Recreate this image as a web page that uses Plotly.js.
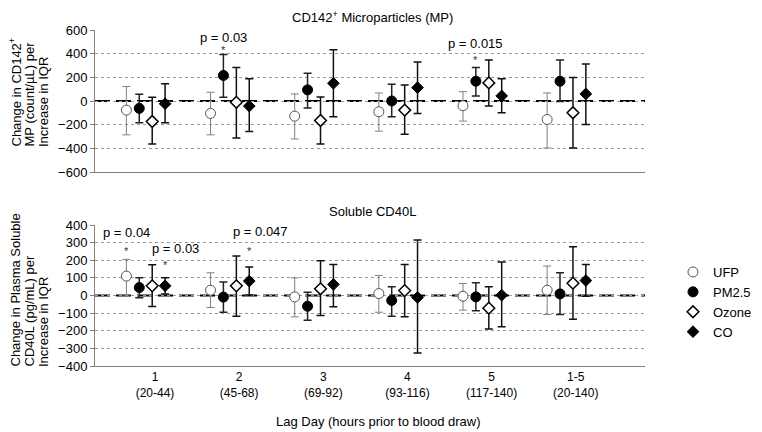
<!DOCTYPE html>
<html>
<head>
<meta charset="utf-8">
<script src="https://cdn.plot.ly/plotly-3.0.1.min.js"></script>
<style>html,body{margin:0;padding:0;background:#fff;}#chart{width:762px;height:432px;}</style>
</head>
<body>
<div id="chart"></div>
<script>
// Categories (lag day, hours prior to blood draw)
const lagLabels = ['1<br>(20-44)', '2<br>(45-68)', '3<br>(69-92)', '4<br>(93-116)', '5<br>(117-140)', '1-5<br>(20-140)'];
const seriesNames = ['UFP', 'PM2.5', 'Ozone', 'CO'];

// Top panel: change in CD142+ MP (count/uL) per IQR increase
const mpUFP      = [-77, -105, -128, -91, -40, -156];
const mpUFPlo    = [-286, -286, -321, -255, -170, -397];
const mpUFPhi    = [122, 74, 60, 68, 79, 68];
const mpPM       = [-62, 216, 94, 0, 167, 167];
const mpPMlo     = [-184, 31, -60, -133, 43, -5];
const mpPMhi     = [57, 392, 235, 142, 284, 346];
const mpOzone    = [-173, -11, -165, -77, 153, -99];
const mpOzonelo  = [-363, -312, -363, -281, -43, -397];
const mpOzonehi  = [31, 284, 34, 136, 346, 199];
const mpCO       = [-23, -43, 150, 113, 43, 60];
const mpCOlo     = [-184, -258, -133, -105, -99, -199];
const mpCOhi     = [145, 187, 434, 329, 187, 312];

// Bottom panel: change in plasma soluble CD40L (pg/mL) per IQR increase
const cdUFP      = [110, 30, -8, 11, -4, 30];
const cdUFPlo    = [3, -68, -121, -95, -83, -108];
const cdUFPhi    = [205, 129, 100, 114, 68, 167];
const cdPM       = [45, -9, -61, -28, -8, 9];
const cdPMlo     = [-13, -95, -140, -118, -87, -108];
const cdPMhi     = [100, 76, 19, 49, 72, 129];
const cdOzone    = [55, 55, 38, 28, -72, 70];
const cdOzonelo  = [-63, -118, -114, -121, -190, -135];
const cdOzonehi  = [174, 224, 197, 176, 49, 277];
const cdCO       = [55, 82, 63, -11, 2, 85];
const cdCOlo     = [9, 3, -64, -326, -178, -4];
const cdCOhi     = [100, 161, 176, 315, 190, 176];

const FONT = 'Liberation Sans, Arial, sans-serif';
const W = 762, H = 432;
const px = v => v / W;
const py = v => 1 - v / H;

const offsets = [-0.23, -0.077, 0.077, 0.23];
const groupIdx = lagLabels.map((_, i) => i + 1);

const styles = [
  {symbol: 'circle', size: 10, color: '#ffffff', line: {color: '#555', width: 1}, err: '#808080', errW: 1},
  {symbol: 'circle', size: 10, color: '#000000', line: {color: '#000', width: 1}, err: '#222', errW: 1.5},
  {symbol: 'diamond', size: 9, color: '#ffffff', line: {color: '#000', width: 1.5}, err: '#111', errW: 1.5},
  {symbol: 'diamond', size: 9, color: '#000000', line: {color: '#000', width: 1}, err: '#111', errW: 1.5}
];

function makeTrace(k, est, lo, hi, xa, ya, showLegend) {
  const s = styles[k];
  return {
    type: 'scatter', mode: 'markers', name: seriesNames[k],
    x: groupIdx.map(g => g + offsets[k]), y: est,
    xaxis: xa, yaxis: ya, showlegend: showLegend, legendgroup: seriesNames[k],
    marker: {symbol: s.symbol, size: s.size, color: s.color, line: s.line},
    error_y: {type: 'data', symmetric: false,
      array: hi.map((h, i) => h - est[i]), arrayminus: est.map((e, i) => e - lo[i]),
      color: s.err, thickness: s.errW, width: 4}
  };
}

const topSets = [[mpUFP, mpUFPlo, mpUFPhi], [mpPM, mpPMlo, mpPMhi], [mpOzone, mpOzonelo, mpOzonehi], [mpCO, mpCOlo, mpCOhi]];
const botSets = [[cdUFP, cdUFPlo, cdUFPhi], [cdPM, cdPMlo, cdPMhi], [cdOzone, cdOzonelo, cdOzonehi], [cdCO, cdCOlo, cdCOhi]];

const traces = [];
topSets.forEach((d, k) => traces.push(makeTrace(k, d[0], d[1], d[2], 'x', 'y', true)));
botSets.forEach((d, k) => traces.push(makeTrace(k, d[0], d[1], d[2], 'x2', 'y2', false)));

const xRange = [0.397, 6.933];
const xDomain = [px(95), px(645)];
const tickFont = {family: FONT, size: 13, color: '#000'};

const yCommon = {
  showline: true, linecolor: '#808080', linewidth: 1,
  ticks: 'outside', ticklen: 4, tickcolor: '#808080',
  showgrid: true, gridcolor: '#9a9a9a', griddash: 'dot', gridwidth: 1,
  zeroline: false, tickfont: tickFont, fixedrange: true
};
const xCommon = {
  range: xRange, domain: xDomain, showline: true, linecolor: '#808080', linewidth: 1,
  showgrid: false, zeroline: false, ticks: '', tickfont: {family: FONT, size: 12, color: '#000'},
  tickmode: 'array', tickvals: groupIdx.map(g => g + 0.11), ticktext: lagLabels, fixedrange: true
};

const annotations = [
  {text: 'CD142<sup>+</sup> Microparticles (MP)', x: px(372), y: py(17)},
  {text: 'Soluble CD40L', x: px(372), y: py(212)},
  {text: 'Lag Day (hours prior to blood draw)', x: px(378), y: py(421)},
  {text: 'Change in CD142<sup>+</sup>', x: px(15), y: py(149), textangle: -90, yanchor: 'bottom'},
  {text: 'MP (count/µL) per', x: px(29), y: py(149), textangle: -90, yanchor: 'bottom'},
  {text: 'Increase in IQR', x: px(43), y: py(149), textangle: -90, yanchor: 'bottom'},
  {text: 'Change in Plasma Soluble', x: px(15), y: py(369), textangle: -90, yanchor: 'bottom'},
  {text: 'CD40L (pg/mL) per', x: px(29), y: py(369), textangle: -90, yanchor: 'bottom'},
  {text: 'Increase in IQR', x: px(43), y: py(369), textangle: -90, yanchor: 'bottom'}
].map(a => Object.assign({xref: 'paper', yref: 'paper', showarrow: false, xanchor: 'center', yanchor: 'middle',
  font: {family: FONT, size: 13, color: '#000'}}, a));

// significance labels
const sig = [
  {text: 'p = 0.03', x: 2 + offsets[1], y: 540, xref: 'x', yref: 'y'},
  {text: '*', x: 2 + offsets[1], y: 430, xref: 'x', yref: 'y', star: true},
  {text: 'p = 0.015', x: 5 + offsets[1], y: 490, xref: 'x', yref: 'y'},
  {text: '*', x: 5 + offsets[1], y: 350, xref: 'x', yref: 'y', star: true},
  {text: 'p = 0.04', x: 1 + offsets[0], y: 356, xref: 'x2', yref: 'y2'},
  {text: '*', x: 1 + offsets[0], y: 252, xref: 'x2', yref: 'y2', star: true},
  {text: 'p = 0.03', x: 1.348, y: 266, xref: 'x2', yref: 'y2'},
  {text: '*', x: 1 + offsets[3], y: 175, xref: 'x2', yref: 'y2', star: true},
  {text: 'p = 0.047', x: 2.358, y: 364, xref: 'x2', yref: 'y2'},
  {text: '*', x: 2 + offsets[3], y: 252, xref: 'x2', yref: 'y2', star: true}
];
sig.forEach(s => annotations.push({
  text: s.text, x: s.x, y: s.y, xref: s.xref, yref: s.yref, showarrow: false,
  xanchor: 'center', yanchor: 'middle',
  font: {family: FONT, size: s.star ? 11 : 13, color: s.star ? '#333' : '#000'}
}));

const zeroDash = {color: '#000', width: 2, dash: '15px,6px'};
const layout = {
  width: W, height: H,
  margin: {l: 0, r: 0, t: 0, b: 0},
  paper_bgcolor: '#fff', plot_bgcolor: '#fff',
  font: {family: FONT, size: 13, color: '#000'},
  xaxis: Object.assign({}, xCommon, {anchor: 'y', showticklabels: false}),
  xaxis2: Object.assign({}, xCommon, {anchor: 'y2'}),
  yaxis: Object.assign({}, yCommon, {domain: [py(172), py(30)], range: [-600, 600], tickvals: [-600, -400, -200, 0, 200, 400, 600], anchor: 'x'}),
  yaxis2: Object.assign({}, yCommon, {domain: [py(366), py(225)], range: [-400, 400], tickvals: [-400, -300, -200, -100, 0, 100, 200, 300, 400], anchor: 'x2'}),
  shapes: [
    {type: 'line', xref: 'x domain', x0: 0, x1: 1, yref: 'y', y0: 0, y1: 0, line: zeroDash, layer: 'below'},
    {type: 'line', xref: 'x2 domain', x0: 0, x1: 1, yref: 'y2', y0: 0, y1: 0, line: zeroDash, layer: 'below'}
  ],
  annotations: annotations,
  showlegend: true,
  legend: {x: px(673), y: py(257), xanchor: 'left', yanchor: 'top', bgcolor: 'rgba(0,0,0,0)',
    font: {family: FONT, size: 13, color: '#000'}, tracegroupgap: 0, itemclick: false, itemdoubleclick: false}
};

Plotly.newPlot('chart', traces, layout, {staticPlot: true, displayModeBar: false});
</script>
</body>
</html>
